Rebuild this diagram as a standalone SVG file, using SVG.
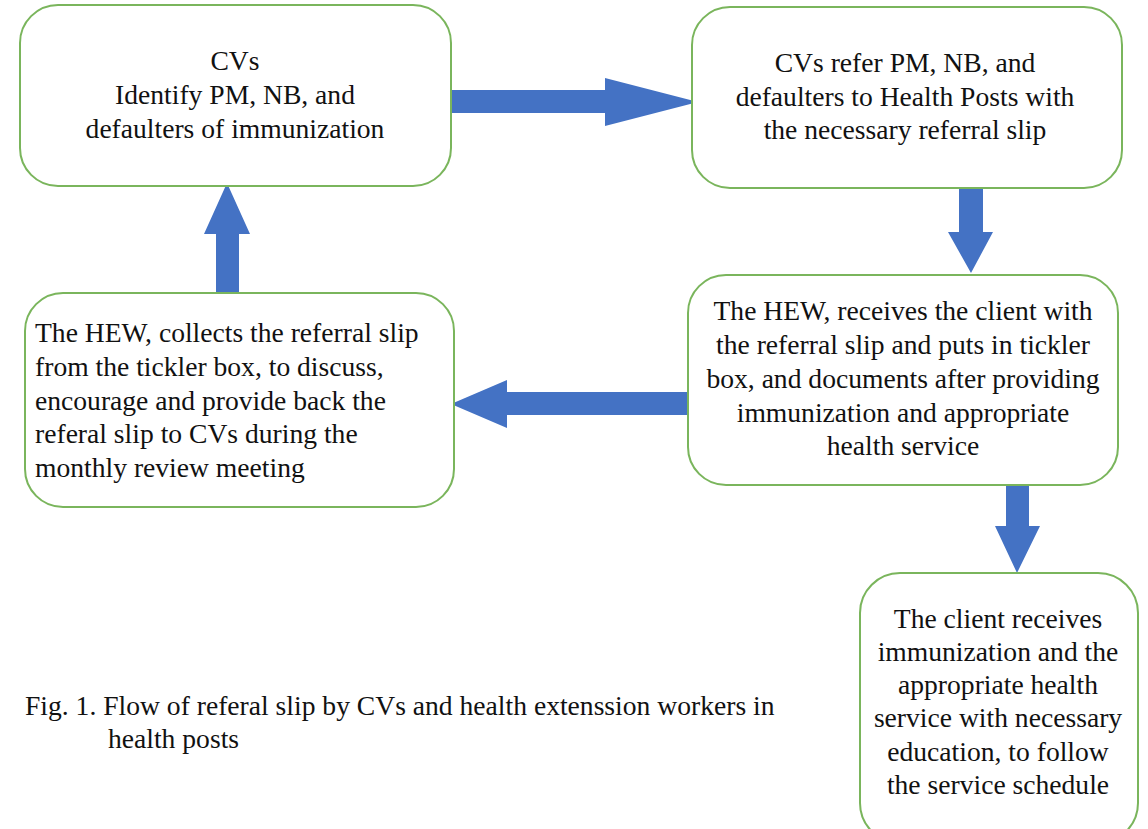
<svg xmlns="http://www.w3.org/2000/svg" width="1148" height="829" viewBox="0 0 1148 829" font-family="'Liberation Serif', 'Times New Roman', Times, serif">
<style>
.box{fill:#ffffff;stroke:#7ab55c;stroke-width:2}
.t{font-family:'Liberation Serif', 'Times New Roman', Times, serif;font-size:27.6px;fill:#111111}
.c{text-anchor:middle}
.arr{fill:#4472c4}
</style>
<rect width="1148" height="829" fill="#ffffff"/>
<g id="connectors">
<polygon class="arr" points="452,90 605,90 605,78 698,102 605,126 605,113 452,113"/>
<polygon class="arr" points="959,189 983,189 983,232 993,232 971,273 948,232 959,232"/>
<polygon class="arr" points="216,296 216,234 204,234 227,183 250,234 239,234 239,296"/>
<polygon class="arr" points="688,392 507,392 507,380 451,404 507,428 507,415 688,415"/>
<polygon class="arr" points="1006,485 1006,526 995,526 1017,573 1040,526 1029,526 1029,485"/>
</g>
<g id="n1">
<rect class="box" x="20" y="5" width="431" height="181" rx="38"/>
<text class="t c" x="235" y="70">CVs</text>
<text class="t c" x="235" y="104">Identify PM, NB, and</text>
<text class="t c" x="235" y="138">defaulters of immunization</text>
</g>
<g id="n2">
<rect class="box" x="692" y="7" width="430" height="181" rx="38"/>
<text class="t c" x="905" y="72">CVs refer PM, NB, and</text>
<text class="t c" x="905" y="106">defaulters to Health Posts with</text>
<text class="t c" x="905" y="139">the necessary  referral slip</text>
</g>
<g id="n3">
<rect class="box" x="688" y="275" width="430" height="210" rx="38"/>
<text class="t c" x="903" y="320">The HEW, receives the client with</text>
<text class="t c" x="903" y="354">the referral slip and puts in tickler</text>
<text class="t c" x="903" y="388">box, and documents after providing</text>
<text class="t c" x="903" y="422">immunization and appropriate</text>
<text class="t c" x="903" y="455">health service</text>
</g>
<g id="n4">
<rect class="box" x="25" y="293" width="429" height="214" rx="38"/>
<text class="t" x="35" y="342">The HEW, collects the referral slip</text>
<text class="t" x="35" y="376">from the tickler box, to discuss,</text>
<text class="t" x="35" y="410">encourage  and provide back the</text>
<text class="t" x="35" y="443">referal slip to CVs during the</text>
<text class="t" x="35" y="477">monthly review meeting</text>
</g>
<g id="n5">
<rect class="box" x="860" y="573" width="278" height="270" rx="40"/>
<text class="t c" x="998" y="628">The client receives</text>
<text class="t c" x="998" y="661">immunization and the</text>
<text class="t c" x="998" y="694">appropriate  health</text>
<text class="t c" x="998" y="727">service with necessary</text>
<text class="t c" x="998" y="761">education, to follow</text>
<text class="t c" x="998" y="794">the service schedule</text>
</g>
<g id="caption">
<text class="t" x="25" y="715">Fig. 1. Flow of referal slip by CVs and health extenssion  workers in</text>
<text class="t" x="108" y="748">health posts</text>
</g>
</svg>
